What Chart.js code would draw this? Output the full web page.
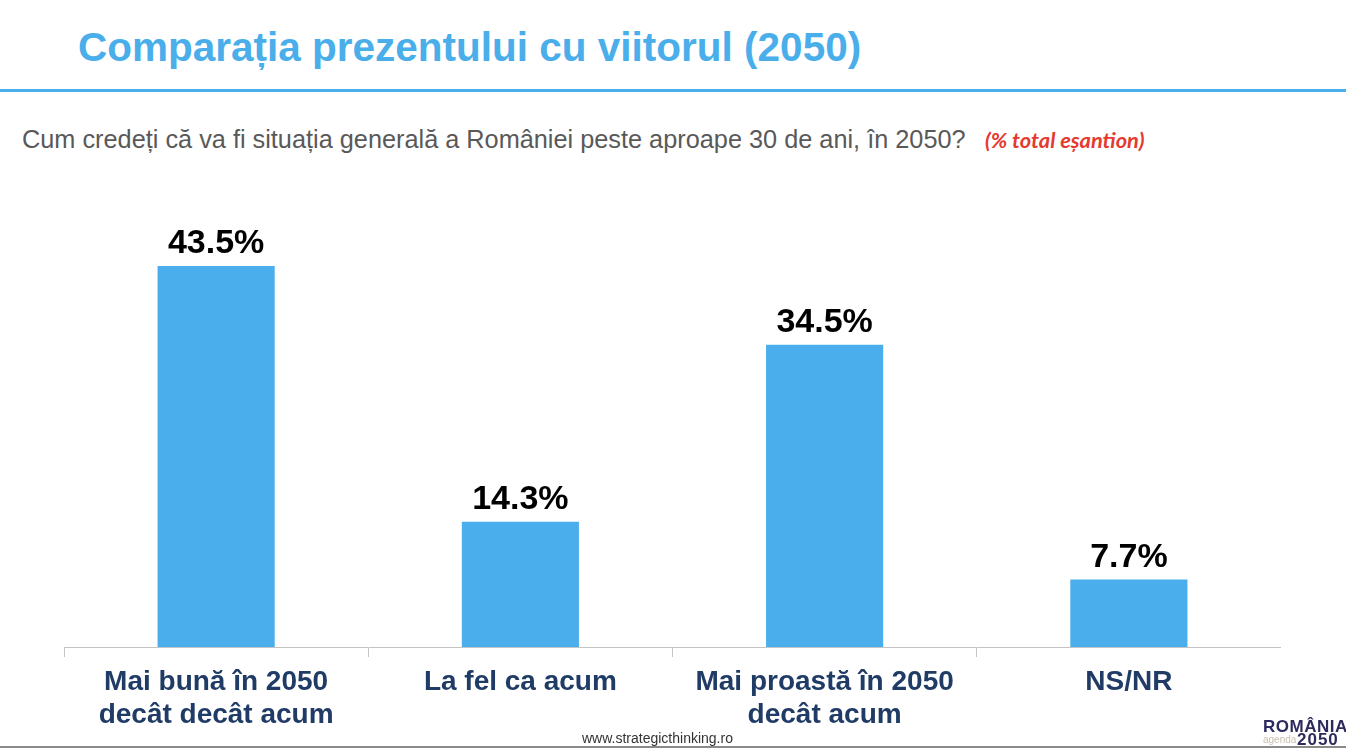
<!DOCTYPE html>
<html>
<head>
<meta charset="utf-8">
<script src="https://cdn.jsdelivr.net/npm/chart.js@4"></script>
<style>
    body { margin: 0; width: 1346px; height: 750px; background: #fff; overflow: hidden; position: relative; font-family: "Liberation Sans", Arial, sans-serif; }
    .abs { position: absolute; white-space: nowrap; line-height: 1; }
    #title { left: 78px; top: 27px; font-size: 40.5px; font-weight: bold; color: #4aaeea; }
    #rule { left: 0; top: 89px; width: 1346px; height: 3px; background: #4aaeea; }
    #sub { left: 22px; top: 127px; font-size: 25.3px; color: #595959; }
    #note { left: 985px; top: 129px; font-size: 21.8px; font-weight: bold; font-style: italic; color: #e53a2f; font-family: Lato, sans-serif; }
    #chartBox { left: 64px; top: 180px; width: 1217px; height: 560px; }
    #foot { left: 582px; top: 731px; font-size: 14px; color: #333; }
    #bottomRule { left: 0; top: 746px; width: 1346px; height: 2px; background: #8a8a8a; }
    #logo1 { left: 1263px; top: 718px; font-size: 17px; font-weight: bold; color: #2d2b5e; letter-spacing: 0.5px; }
    #logo2 { left: 1263px; top: 735px; font-size: 10px; color: #c8bfae; }
    #logo3 { left: 1297px; top: 731px; font-size: 17px; font-weight: bold; color: #2d2b5e; letter-spacing: 1px; }
</style>
</head>
<body>
<div class="abs" id="title">Comparația prezentului cu viitorul (2050)</div>
<div class="abs" id="rule"></div>
<div class="abs" id="sub">Cum credeți că va fi situația generală a României peste aproape 30 de ani, în 2050?</div>
<div class="abs" id="note">(% total eșantion)</div>
<div class="abs" id="chartBox"><canvas id="barChart"></canvas></div>
<div class="abs" id="foot">www.strategicthinking.ro</div>
<div class="abs" id="bottomRule"></div>
<div class="abs" id="logo1">ROMÂNIA</div>
<div class="abs" id="logo2">agenda</div>
<div class="abs" id="logo3">2050</div>

<script>
var categories = [
    ['Mai bună în 2050', 'decât decât acum'],
    'La fel ca acum',
    ['Mai proastă în 2050', 'decât acum'],
    'NS/NR'
];
var values = [43.5, 14.3, 34.5, 7.7];

// value labels above each bar
var valueLabels = {
    id: 'valueLabels',
    afterDatasetsDraw: function (chart) {
        var ctx = chart.ctx;
        var meta = chart.getDatasetMeta(0);
        ctx.save();
        ctx.font = 'bold 34px "Liberation Sans", Arial, sans-serif';
        ctx.fillStyle = '#000';
        ctx.textAlign = 'center';
        ctx.textBaseline = 'alphabetic';
        meta.data.forEach(function (bar, i) {
            ctx.fillText(values[i].toFixed(1) + '%', bar.x, bar.y - 13);
        });
        ctx.restore();
    }
};

window.onload = function () {
    var ctx = document.getElementById('barChart').getContext('2d');
    new Chart(ctx, {
        type: 'bar',
        data: {
            labels: categories,
            datasets: [{
                data: values,
                backgroundColor: '#4baeec',
                categoryPercentage: 1,
                barPercentage: 0.385
            }]
        },
        options: {
            responsive: true,
            maintainAspectRatio: false,
            animation: false,
            layout: { padding: { top: 29, left: 0, right: 0, bottom: 0 } },
            plugins: {
                legend: { display: false },
                tooltip: { enabled: false }
            },
            scales: {
                y: {
                    display: false,
                    min: 0,
                    max: 50
                },
                x: {
                    afterFit: function (scale) { scale.height = 93; },
                    grid: {
                        offset: true,
                        drawOnChartArea: false,
                        drawTicks: true,
                        tickLength: 10,
                        color: '#c4c4c4'
                    },
                    border: { display: true, color: '#c4c4c4' },
                    ticks: {
                        padding: 8,
                        color: '#203c66',
                        font: { family: '"Liberation Sans", Arial, sans-serif', size: 28, weight: 'bold', lineHeight: 1.2 },
                        maxRotation: 0,
                        autoSkip: false
                    }
                }
            }
        },
        plugins: [valueLabels]
    });
};
</script>
</body>
</html>
